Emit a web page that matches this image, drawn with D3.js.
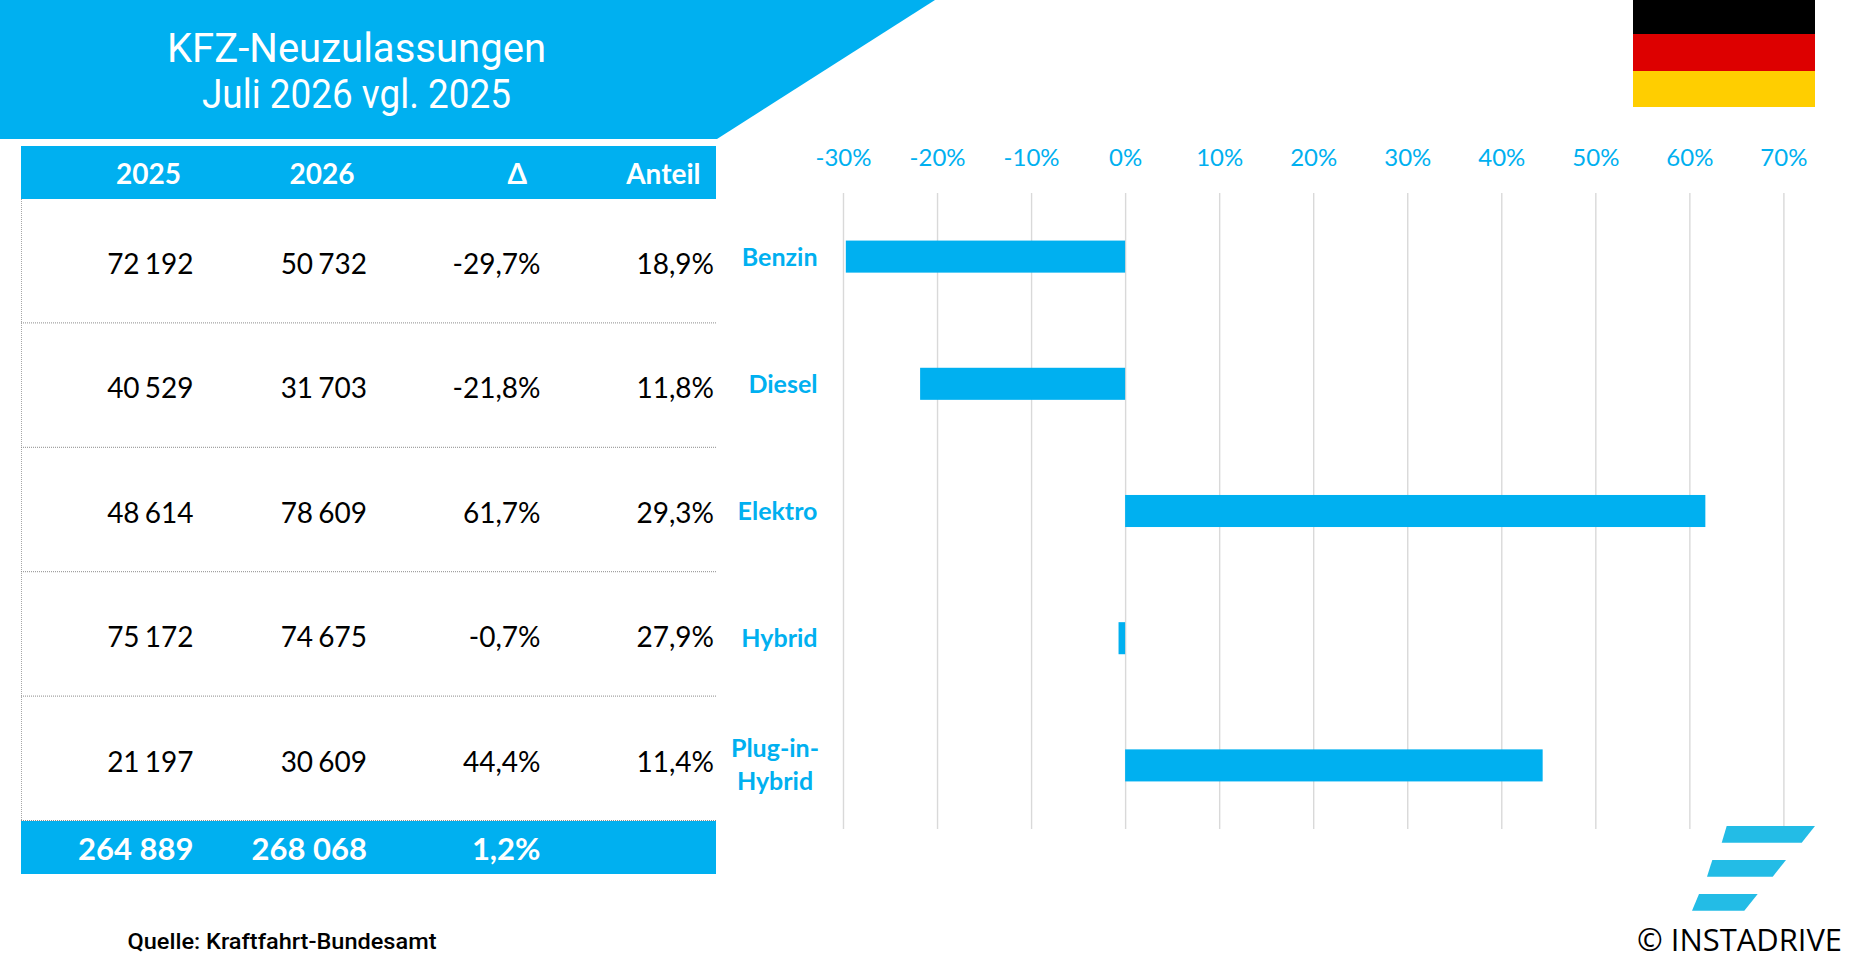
<!DOCTYPE html>
<html><head><meta charset="utf-8">
<script src="https://cdn.jsdelivr.net/npm/d3@7"></script>
<style>html,body{margin:0;padding:0;background:#fff;overflow:hidden}svg{display:block}
.grid line{stroke:#D9D9D9;stroke-width:1.4}.grid path,.ax path,.ax line{display:none}</style>
</head><body><svg id="c" width="1860" height="967"></svg>
<script>
const titleLines=["KFZ-Neuzulassungen","Juli 2026 vgl. 2025"];
const categories=["Benzin","Diesel","Elektro","Hybrid","Plug-in-Hybrid"];
const reg2025=[72192,40529,48614,75172,21197];
const reg2026=[50732,31703,78609,74675,30609];
const deltaPct=[-29.7,-21.8,61.7,-0.7,44.4];
const sharePct=[18.9,11.8,29.3,27.9,11.4];
const totals2025=264889, totals2026=268068, totalDelta=1.2;
const columnHeads=["2025","2026","Δ","Anteil"];
const axisTicks=[-30,-20,-10,0,10,20,30,40,50,60,70];
const source="Quelle: Kraftfahrt-Bundesamt";
const copyright="© INSTADRIVE";

const BLUE="#00B0F0";
const svg=d3.select("#c");
const de=d3.formatLocale({decimal:",",thousands:"\u00A0",grouping:[3],currency:["","€"],minus:"-"});
const fInt=de.format(",d"), fPct=v=>de.format(".1f")(v)+"%";
const LATO="Lato, Carlito, sans-serif";

// banner
svg.append("path").attr("d","M0,0H935L717,139H0Z").attr("fill",BLUE);
const fit=(s,w)=>s.attr("textLength",w).attr("lengthAdjust","spacingAndGlyphs");
[[0,62,379],[1,108,309]].forEach(([i,y,w])=>{
  fit(svg.append("text").attr("x",356.5).attr("y",y).attr("text-anchor","middle")
   .attr("font-family","Roboto, sans-serif").attr("font-size",40).attr("fill","#fff").text(titleLines[i]),w);
});

// flag
[["#000",0,34],["#DD0000",34,71],["#FFCE00",71,107]].forEach(([c,a,b])=>
  svg.append("rect").attr("x",1633).attr("y",a).attr("width",182).attr("height",b-a).attr("fill",c));

// table
const tableX0=21,tableX1=716;
svg.append("rect").attr("x",tableX0).attr("y",146).attr("width",tableX1-tableX0).attr("height",53).attr("fill",BLUE);
svg.append("rect").attr("x",tableX0).attr("y",821).attr("width",tableX1-tableX0).attr("height",53).attr("fill",BLUE);
svg.append("line").attr("x1",tableX0+.5).attr("x2",tableX0+.5).attr("y1",199).attr("y2",821)
  .attr("stroke","#A6A6A6").attr("stroke-dasharray","1 1");
const rowY=d3.scaleBand().domain(categories).range([199,821]);
svg.selectAll(".sep").data(categories).join("line").attr("class","sep")
  .attr("x1",tableX0).attr("x2",tableX1)
  .attr("y1",d=>rowY(d)+rowY.bandwidth()-.5).attr("y2",d=>rowY(d)+rowY.bandwidth()-.5)
  .attr("stroke","#8C8C8C").attr("stroke-dasharray","1 1");
const headRight=[181,354.5,527,700.5], cellRight=[193.5,367,540.5,714];
svg.selectAll(".head").data(columnHeads).join("text").attr("class","head")
  .attr("x",(d,i)=>headRight[i]).attr("y",184).attr("text-anchor","end")
  .attr("font-family",LATO).attr("font-weight",700).attr("font-size",28).attr("fill","#fff").text(d=>d);
const cols=[reg2025.map(fInt),reg2026.map(fInt),deltaPct.map(fPct),sharePct.map(fPct)];
cols.forEach((col,c)=>{
  svg.selectAll(".cell"+c).data(col).join("text").attr("class","cell"+c)
   .attr("x",cellRight[c]).attr("y",(d,i)=>rowY(categories[i])+75).attr("text-anchor","end")
   .attr("word-spacing",-2).attr("font-family",LATO).attr("font-size",28).attr("fill","#000").text(d=>d);
});
[fInt(totals2025),fInt(totals2026),fPct(totalDelta)].forEach((t,i)=>{
  svg.append("text").attr("x",cellRight[i]).attr("y",860).attr("text-anchor","end")
   .attr("font-family",LATO).attr("font-weight",700).attr("font-size",31).attr("fill","#fff").text(t);
});

// chart
const x=d3.scaleLinear().domain([-30,70]).range([843,1783.4]);
const y=d3.scaleBand().domain(categories).range([193,829]).paddingInner(.748).paddingOuter(.374);
svg.append("g").attr("class","grid").attr("transform","translate(0,193)")
  .call(d3.axisBottom(x).tickValues(axisTicks).tickSize(636).tickFormat(""));
const ax=svg.append("g").attr("class","ax").attr("transform","translate(0,166)")
  .call(d3.axisTop(x).tickValues(axisTicks).tickSize(0).tickPadding(0).tickFormat(d=>d+"%"));
ax.selectAll("text").attr("font-family",LATO).attr("font-size",24).attr("fill",BLUE);
svg.selectAll(".bar").data(categories).join("rect").attr("class","bar")
  .attr("x",(d,i)=>x(Math.min(0,deltaPct[i]))).attr("width",(d,i)=>Math.abs(x(deltaPct[i])-x(0)))
  .attr("y",d=>y(d)).attr("height",y.bandwidth()).attr("fill",BLUE);
const yAx=svg.append("g").attr("class","ax").attr("transform","translate(817.5,1)")
  .call(d3.axisLeft(y).tickSize(0).tickPadding(0));
yAx.selectAll("text").attr("font-family",LATO).attr("font-weight",700).attr("font-size",25).attr("fill",BLUE)
  .each(function(d){
    if(d==="Plug-in-Hybrid"){
      const t=d3.select(this).text(null).attr("text-anchor","middle").attr("dy",null).attr("x",-42.5);
      t.append("tspan").attr("x",-42.5).attr("y",-9).text("Plug-in-");
      t.append("tspan").attr("x",-42.5).attr("y",24).text("Hybrid");
    }
  });

// logo
["M1726.7,826H1815L1801.7,842.7H1721.7Z","M1712.3,860H1786L1772.7,876.7H1707Z","M1699,894H1757.7L1744.3,910.7H1692Z"]
 .forEach(d=>svg.append("path").attr("d",d).attr("fill","#23BCE6"));

fit(svg.append("text").attr("x",1637).attr("y",951).attr("font-family","'Open Sans', sans-serif").attr("font-size",31).attr("fill","#000").text(copyright),205);
fit(svg.append("text").attr("x",127.5).attr("y",949).attr("font-family","Roboto, sans-serif").attr("font-weight",500).attr("font-size",22).attr("fill","#000").text(source),309);
</script></body></html>
